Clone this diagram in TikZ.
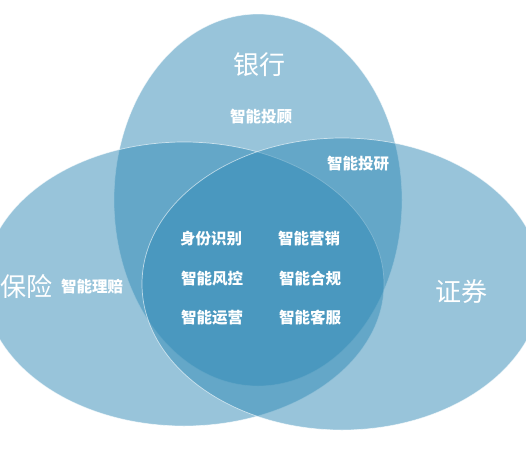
\documentclass[tikz,border=0pt]{standalone}
\usepackage{fontspec}
\usepackage{xcolor}
\newfontfamily\cjk{Noto Sans CJK SC}
\usepackage{tikz}
\usetikzlibrary{positioning}
\definecolor{venn}{RGB}{49,138,182}

\begin{document}
\begin{tikzpicture}[x=1pt,y=-1pt,
 zone/.style={fill=venn,fill opacity=0.5,draw=white,draw opacity=0.6,line width=0.7pt},
 big/.style={text=white,font=\cjk\fontsize{26}{30}\selectfont},
 tag/.style={text=white,font=\cjk\bfseries\fontsize{15.5}{18}\selectfont}]
\useasboundingbox (0,0) rectangle (526,450);
% three circles
\draw[zone] (258,200) ellipse [x radius=144pt,y radius=186pt];
\draw[zone] (184,284) ellipse [x radius=200pt,y radius=142pt];
\draw[zone] (342,284) ellipse [x radius=200pt,y radius=146pt];

\node[big] (bank) at (259,65) {银行};
\node[big] (ins) at (26,287) {保险};
\node[big] (sec) at (461,292) {证券};

\node[tag] (tg) at (261,117) {智能投顾};
\node[tag] (ty) at (358,164) {智能投研};
\node[tag] (lp) at (92,287) {智能理赔};
\node[tag] (sf) at (211,239) {身份识别};
\node[tag] (yx) at (309,239) {智能营销};
\node[tag] (fk) at (212,279) {智能风控};
\node[tag] (hg) at (310,279) {智能合规};
\node[tag] (yy) at (212,318) {智能运营};
\node[tag] (kf) at (310,318) {智能客服};
\end{tikzpicture}
\end{document}
